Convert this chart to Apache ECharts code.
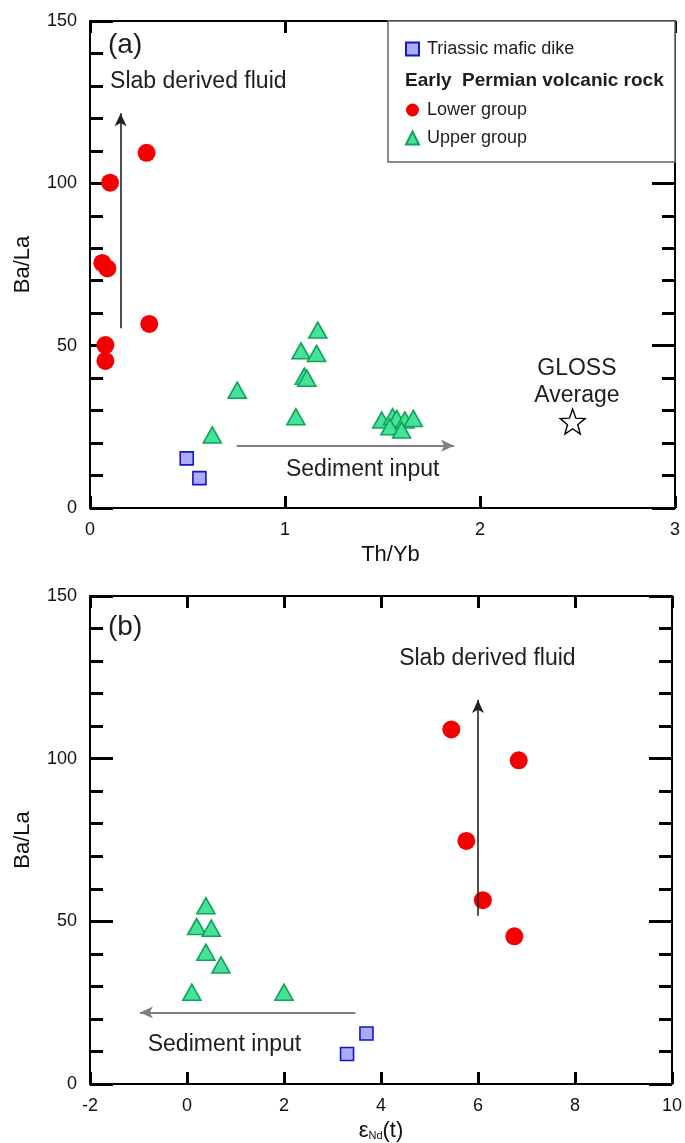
<!DOCTYPE html>
<html>
<head>
<meta charset="utf-8">
<script src="https://cdn.jsdelivr.net/npm/echarts@6/dist/echarts.min.js"></script>
<style>
  html, body { margin: 0; padding: 0; background: #fff; }
  #chart { width: 685px; height: 1143px; }
</style>
</head>
<body>
<div id="chart"></div>
<script>
// panel (a): Th/Yb vs Ba/La
var aDike = [[0.496, 15.3], [0.561, 9.2]];
var aLower = [[0.29, 109.4], [0.103, 100.2], [0.063, 75.5], [0.089, 73.8], [0.304, 56.7], [0.079, 50.2], [0.079, 45.3]];
var aUpper = [[0.627, 22.5], [0.755, 36.3], [1.056, 28.1], [1.099, 40.6], [1.112, 40.0], [1.082, 48.4], [1.162, 47.6], [1.168, 54.8],
  [1.496, 27.1], [1.552, 28.1], [1.573, 27.6], [1.615, 27.1], [1.658, 27.6], [1.538, 25.0], [1.598, 24.0]];
var aGloss = [[2.475, 26.6]];
var aFluidArrow = [[0.157, 55.4], [0.157, 121.6]];
var aSedArrow = [[0.752, 19.2], [1.867, 19.2]];

// panel (b): eNd(t) vs Ba/La
var bDike = [[3.70, 15.5], [3.30, 9.2]];
var bLower = [[5.45, 109.0], [6.84, 99.5], [5.76, 74.7], [6.10, 56.5], [6.75, 45.4]];
var bUpper = [[0.39, 54.8], [0.20, 48.4], [0.50, 47.9], [0.39, 40.5], [0.70, 36.6], [0.10, 28.2], [2.0, 28.2]];
var bFluidArrow = [[6.0, 51.7], [6.0, 118]];
var bSedArrow = [[3.47, 22.0], [-0.97, 22.0]];

// text notes, placed in data units
var aNotes = [
  { text: 'Slab derived fluid', at: [0.103, 131.2], align: 'left' },
  { text: 'Sediment input', at: [1.005, 11.7], align: 'left' },
  { text: 'GLOSS\nAverage', at: [2.497, 38.8], align: 'center' }
];
var bNotes = [
  { text: 'Slab derived fluid', at: [4.374, 130.6], align: 'left' },
  { text: 'Sediment input', at: [-0.81, 12.0], align: 'left' }
];

var FONT = '"Liberation Sans", Arial, sans-serif';
var chart = echarts.init(document.getElementById('chart'));

function yAxes(grid) {
  var base = {
    gridIndex: grid, type: 'value', min: 0, max: 150, interval: 50,
    axisLine: { show: true, onZero: false, lineStyle: { color: '#000', width: 2 } },
    axisTick: { inside: true, length: 23, lineStyle: { color: '#000', width: 3 } },
    minorTick: { show: true, splitNumber: 5, length: 13, lineStyle: { color: '#000', width: 3 } },
    splitLine: { show: false }
  };
  var left = Object.assign({}, base, {
    position: 'left', name: 'Ba/La', nameLocation: 'middle', nameGap: 56, nameRotate: 90,
    nameTextStyle: { fontFamily: FONT, fontSize: 22, color: '#111' },
    axisLabel: { fontFamily: FONT, fontSize: 18, color: '#111', margin: 13 }
  });
  var right = Object.assign({}, base, { position: 'right', axisLabel: { show: false } });
  return [left, right];
}

function xAxes(grid, min, max, interval, name) {
  var base = {
    gridIndex: grid, type: 'value', min: min, max: max, interval: interval,
    axisLine: { show: true, onZero: false, lineStyle: { color: '#000', width: 2 } },
    axisTick: { inside: true, length: 12, lineStyle: { color: '#000', width: 3 } },
    splitLine: { show: false }
  };
  var bottom = Object.assign({}, base, {
    position: 'bottom', name: name, nameLocation: 'middle', nameGap: 36,
    nameTextStyle: {
      fontFamily: FONT, fontSize: 22, color: '#111',
      rich: {
        e: { fontFamily: FONT, fontSize: 22, color: '#111' },
        s: { fontFamily: FONT, fontSize: 11, color: '#111', padding: [10, 0, 0, 0] }
      }
    },
    axisLabel: { fontFamily: FONT, fontSize: 18, color: '#111', margin: 13 }
  });
  var top = Object.assign({}, base, { position: 'top', axisLabel: { show: false } });
  return [bottom, top];
}

function points(name, data, xi, yi) {
  var style = {
    'Triassic mafic dike': { symbol: 'rect', symbolSize: 13, itemStyle: { color: '#a9adf7', borderColor: '#1515c8', borderWidth: 1.6, opacity: 1 } },
    'Lower group': { symbol: 'circle', symbolSize: 18, itemStyle: { color: '#f50000', opacity: 1 } },
    'Upper group': { symbol: 'triangle', symbolSize: [18, 16], itemStyle: { color: '#45e39a', borderColor: '#10a357', borderWidth: 1.6, opacity: 1 } }
  }[name];
  return Object.assign({
    name: name, type: 'scatter', xAxisIndex: xi, yAxisIndex: yi, data: data, silent: true
  }, style);
}

function notes(list, arrows, xi, yi) {
  return {
    type: 'scatter', xAxisIndex: xi, yAxisIndex: yi, symbolSize: 0, silent: true, z: 5,
    itemStyle: { opacity: 1 },
    data: list.map(function (n) {
      return {
        value: n.at,
        label: {
          show: true, position: 'inside', formatter: n.text, align: n.align, verticalAlign: 'middle',
          fontFamily: FONT, fontSize: 23, lineHeight: 27, color: '#1e1e1e'
        }
      };
    }),
    markLine: {
      silent: true, animation: false,
      symbol: ['none', 'arrow'], symbolSize: [9, 13],
      label: { show: false },
      data: [
        [{ coord: arrows[0][0], lineStyle: { color: '#222', width: 1.6, type: 'solid', opacity: 1 } }, { coord: arrows[0][1] }],
        [{ coord: arrows[1][0], lineStyle: { color: '#808080', width: 2, type: 'solid', opacity: 1 } }, { coord: arrows[1][1] }]
      ]
    }
  };
}

var xa = xAxes(0, 0, 3, 1, 'Th/Yb');
xa[0].nameTextStyle.padding = [0, 0, 0, 16];
var xb = xAxes(1, -2, 10, 2, '{e|ε}{s|Nd}{e|(t)}');

var option = {
  animation: false,
  backgroundColor: '#fff',
  grid: [
    { left: 90, right: 10, top: 21, height: 487 },
    { left: 90, right: 10, top: 596, height: 488 }
  ],
  xAxis: [xa[0], xa[1], xb[0], xb[1]],
  yAxis: yAxes(0).concat(yAxes(1)),
  legend: [
    {
      data: ['Triassic mafic dike'], left: 400, top: 35, z: 10,
      itemWidth: 13, itemHeight: 13, selectedMode: false,
      textStyle: { fontFamily: FONT, fontSize: 18, color: '#1e1e1e', padding: [0, 0, 0, 3] }
    },
    {
      data: ['Lower group', 'Upper group'], left: 400, top: 96, orient: 'vertical', itemGap: 10, z: 10,
      itemWidth: 13, itemHeight: 13, selectedMode: false,
      textStyle: { fontFamily: FONT, fontSize: 18, color: '#1e1e1e', padding: [0, 0, 0, 3] }
    }
  ],
  graphic: [
    {
      type: 'rect', z: 8, shape: { x: 388, y: 21, width: 287, height: 141 },
      style: { fill: '#fff', stroke: '#666', lineWidth: 1.5 }
    },
    {
      type: 'text', z: 9, x: 405, y: 81,
      style: { text: 'Early  Permian volcanic rock', font: 'bold 19px ' + FONT, fill: '#1e1e1e', textVerticalAlign: 'middle' }
    },
    {
      type: 'text', z: 9, x: 108, y: 45,
      style: { text: '(a)', font: '28px ' + FONT, fill: '#1e1e1e', textVerticalAlign: 'middle' }
    },
    {
      type: 'text', z: 9, x: 108, y: 627,
      style: { text: '(b)', font: '28px ' + FONT, fill: '#1e1e1e', textVerticalAlign: 'middle' }
    }
  ],
  series: [
    points('Triassic mafic dike', aDike, 0, 0),
    points('Lower group', aLower, 0, 0),
    points('Upper group', aUpper, 0, 0),
    {
      name: 'GLOSS', type: 'scatter', xAxisIndex: 0, yAxisIndex: 0, data: aGloss, silent: true,
      symbol: 'path://M12,1 L14.9,8.9 L23.4,9.3 L16.7,14.6 L19,22.8 L12,18.1 L5,22.8 L7.3,14.6 L0.6,9.3 L9.1,8.9 Z',
      symbolSize: 25, itemStyle: { color: '#fff', borderColor: '#000', borderWidth: 1.4, opacity: 1 }
    },
    notes(aNotes, [aFluidArrow, aSedArrow], 0, 0),
    points('Triassic mafic dike', bDike, 2, 2),
    points('Lower group', bLower, 2, 2),
    points('Upper group', bUpper, 2, 2),
    notes(bNotes, [bFluidArrow, bSedArrow], 2, 2)
  ]
};

chart.setOption(option);
</script>
</body>
</html>
